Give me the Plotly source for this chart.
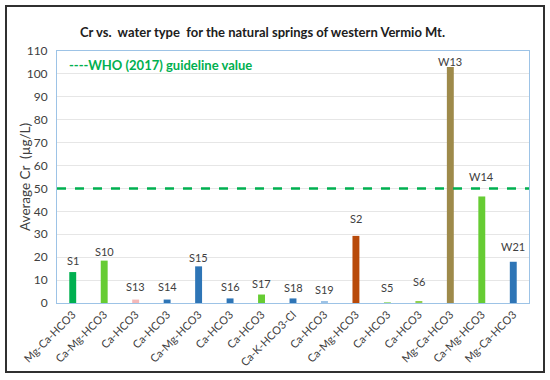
import plotly.graph_objects as go

sites = ["S1", "S10", "S13", "S14", "S15", "S16", "S17", "S18", "S19", "S2", "S5", "S6", "W13", "W14", "W21"]
water_types = ["Mg-Ca-HCO3", "Ca-Mg-HCO3", "Ca-HCO3", "Ca-HCO3", "Ca-Mg-HCO3", "Ca-HCO3", "Ca-HCO3",
               "Ca-K-HCO3-Cl", "Ca-HCO3", "Ca-Mg-HCO3", "Ca-HCO3", "Ca-HCO3", "Mg-Ca-HCO3", "Ca-Mg-HCO3", "Mg-Ca-HCO3"]
cr_values = [13.5, 18.5, 1.5, 1.5, 16.0, 2.0, 3.7, 2.0, 0.5, 29.3, 0.4, 0.8, 103.0, 46.5, 18.0]
who_limit = 50
y_ticks = list(range(0, 111, 10))

# style / layout (not data)
bar_colors = ["#00B050", "#66CC33", "#F4B8B8", "#2E75B6", "#2E75B6", "#2E75B6", "#66CC33", "#2E75B6",
              "#9DC3E6", "#B84A0A", "#A8E08A", "#92D050", "#9E8A4A", "#66CC33", "#2E75B6"]
label_heights = [18.5, 22.7, 7.1, 7.1, 19.7, 7.4, 8.3, 6.7, 5.7, 36.7, 6.6, 9.3, 105.4, 55.3, 24.6]

FONT = "Lato"
idx = list(range(len(sites)))

# target plot area in page pixels
PL, PR, PT, PB = 57, 529, 51, 303
W, H = 550, 380
pw, ph = PR - PL, PB - PT

def px(x):
    return (x - PL) / pw

def py(y):
    return (PB - y) / ph

fig = go.Figure()
fig.add_trace(go.Bar(x=idx, y=cr_values, marker=dict(color=bar_colors, line=dict(width=0)),
                     width=0.22, showlegend=False, hoverinfo="y"))

for i, (s, h) in enumerate(zip(sites, label_heights)):
    fig.add_annotation(x=i, y=h, text=s, showarrow=False, xref="x", yref="y",
                       font=dict(family=FONT, size=11, color="#404040"), yanchor="middle")

fig.add_shape(type="line", xref="paper", yref="y", x0=0, x1=1, y0=who_limit, y1=who_limit,
              line=dict(color="#00B050", width=2.5, dash="dash"))

fig.add_annotation(xref="paper", yref="y", x=px(67), y=104, text="<b>----WHO (2017) guideline value</b>",
                   showarrow=False, xanchor="left", yanchor="middle",
                   font=dict(family=FONT, size=13, color="#00B050"))

# y-axis title
fig.add_annotation(xref="paper", yref="paper", x=px(25), y=py(177), text="Average Cr  (µg/L)",
                   textangle=-90, showarrow=False, xanchor="center", yanchor="middle",
                   font=dict(family=FONT, size=13.5, color="#404040"))

# chart title
fig.add_annotation(xref="paper", yref="paper", x=px(262), y=py(32),
                   text="<b>Cr vs.  water type  for the natural springs of western Vermio Mt.</b>",
                   showarrow=False, xanchor="center", yanchor="middle",
                   font=dict(family=FONT, size=13, color="#202020"))

# outer border
fig.add_shape(type="rect", xref="paper", yref="paper", x0=px(6), x1=px(544), y0=py(372), y1=py(6),
              line=dict(color="#303030", width=2), layer="below")

fig.update_layout(
    width=W, height=H,
    margin=dict(l=PL, r=W - PR, t=PT, b=H - PB, autoexpand=False),
    paper_bgcolor="white", plot_bgcolor="white",
    font=dict(family=FONT, color="#404040"),
)
fig.update_xaxes(tickmode="array", tickvals=idx, ticktext=water_types, tickangle=-45,
                 range=[-0.5, len(sites) - 0.5], showgrid=False, ticks="", automargin=False,
                 tickfont=dict(family=FONT, size=11, color="#404040"),
                 showline=True, linecolor="#9DC3E6", linewidth=1, mirror=True, zeroline=False)
fig.update_yaxes(range=[0, 110], tickvals=y_ticks, showgrid=True, gridcolor="#E6E6E6", gridwidth=1,
                 tickfont=dict(family=FONT, size=12, color="#404040"), ticks="", ticklabelstandoff=6,
                 automargin=False,
                 showline=True, linecolor="#9DC3E6", linewidth=1, mirror=True, zeroline=False)

fig.write_html("out.html", config={"displayModeBar": False},
               post_script="document.body.style.margin='0px';")
